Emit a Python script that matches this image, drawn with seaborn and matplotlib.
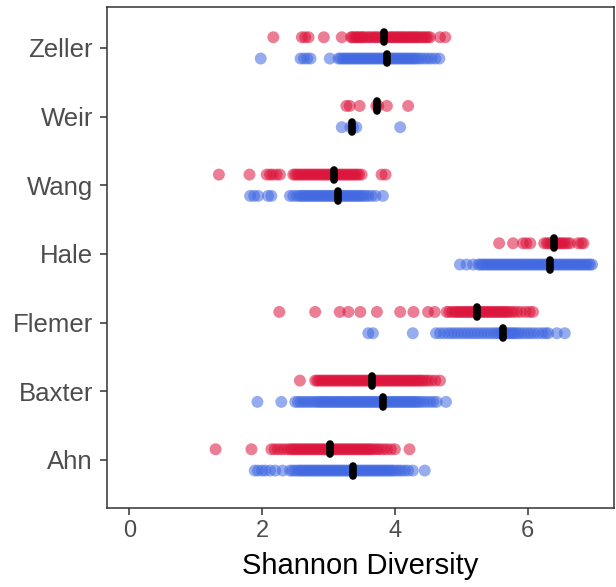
import numpy as np
import pandas as pd
import matplotlib
matplotlib.use("Agg")
import matplotlib.pyplot as plt
import seaborn as sns

# -------- data --------
studies = ["Zeller", "Weir", "Wang", "Hale", "Flemer", "Baxter", "Ahn"]
groups = ["CRC", "Control"]
palette = {"CRC": "#DC143C", "Control": "#4169E1"}

zeller_crc = [2.17, 2.60, 2.65, 2.70, 2.93, 3.20, 3.34, 3.36, 3.39, 3.42, 3.44,
              3.47, 3.50, 3.52, 3.55, 3.59, 3.62, 3.66, 3.69, 3.72, 3.75, 3.79,
              3.82, 3.85, 3.88, 3.92, 3.95, 3.97, 4.00, 4.03, 4.05, 4.08, 4.11,
              4.13, 4.16, 4.19, 4.22, 4.24, 4.27, 4.30, 4.32, 4.35, 4.38, 4.41,
              4.44, 4.47, 4.50, 4.53, 4.68, 4.76]
zeller_ctrl = [1.98, 2.58, 2.63, 2.68, 2.73, 3.02, 3.15, 3.18, 3.21, 3.24, 3.27,
               3.30, 3.33, 3.36, 3.39, 3.42, 3.45, 3.48, 3.51, 3.54, 3.57, 3.60,
               3.63, 3.66, 3.69, 3.72, 3.75, 3.78, 3.81, 3.84, 3.87, 3.90, 3.93,
               3.96, 3.99, 4.02, 4.05, 4.08, 4.11, 4.14, 4.17, 4.20, 4.23, 4.26,
               4.29, 4.32, 4.36, 4.40, 4.45, 4.50, 4.55, 4.61, 4.67]
weir_crc = [3.27, 3.32, 3.47, 3.72, 3.75, 3.88, 4.20]
weir_ctrl = [3.20, 3.33, 3.37, 3.42, 4.08]
wang_crc = [1.35, 1.81, 2.07, 2.12, 2.16, 2.22, 2.27, 2.47, 2.50, 2.53, 2.56,
            2.59, 2.62, 2.65, 2.68, 2.71, 2.74, 2.77, 2.80, 2.83, 2.86, 2.89,
            2.92, 2.95, 2.98, 3.01, 3.04, 3.07, 3.10, 3.13, 3.16, 3.19, 3.22,
            3.25, 3.28, 3.31, 3.34, 3.37, 3.40, 3.43, 3.46, 3.50, 3.80, 3.86]
wang_ctrl = [1.82, 1.88, 1.94, 2.09, 2.14, 2.42, 2.47, 2.52, 2.56, 2.59, 2.62,
             2.65, 2.68, 2.71, 2.74, 2.77, 2.80, 2.83, 2.86, 2.89, 2.92, 2.95,
             2.98, 3.01, 3.04, 3.07, 3.10, 3.13, 3.16, 3.19, 3.22, 3.25, 3.28,
             3.31, 3.34, 3.37, 3.40, 3.43, 3.46, 3.49, 3.52, 3.56, 3.60, 3.65,
             3.71, 3.82]
hale_crc = [5.57, 5.78, 5.93, 5.98, 6.04, 6.25, 6.29, 6.32, 6.35, 6.38, 6.41,
            6.44, 6.47, 6.50, 6.53, 6.56, 6.60, 6.64, 6.76, 6.81, 6.84]
hale_ctrl = [4.98, 5.08, 5.18, 5.26, 5.29, 5.32, 5.35, 5.38, 5.41, 5.44, 5.47,
             5.50, 5.53, 5.56, 5.59, 5.62, 5.65, 5.68, 5.71, 5.74, 5.77, 5.80,
             5.83, 5.86, 5.89, 5.92, 5.95, 5.98, 6.01, 6.04, 6.07, 6.10, 6.13,
             6.16, 6.19, 6.22, 6.25, 6.28, 6.31, 6.34, 6.37, 6.40, 6.43, 6.46,
             6.49, 6.52, 6.55, 6.58, 6.61, 6.64, 6.67, 6.70, 6.73, 6.76, 6.79,
             6.82, 6.85, 6.88, 6.91, 6.94, 6.97]
flemer_crc = [2.26, 2.80, 3.17, 3.30, 3.48, 3.73, 4.08, 4.28, 4.50, 4.60, 4.78,
              4.82, 4.86, 4.90, 4.93, 4.96, 4.99, 5.02, 5.05, 5.08, 5.11, 5.14,
              5.17, 5.20, 5.23, 5.26, 5.29, 5.32, 5.35, 5.38, 5.41, 5.44, 5.47,
              5.50, 5.53, 5.56, 5.59, 5.62, 5.65, 5.68, 5.71, 5.75, 5.79, 5.84,
              5.90, 5.97, 6.03, 6.08]
flemer_ctrl = [3.60, 3.67, 4.27, 4.62, 4.68, 4.74, 4.80, 4.85, 4.90, 4.95, 5.00,
               5.05, 5.10, 5.15, 5.20, 5.25, 5.30, 5.35, 5.40, 5.45, 5.50, 5.54,
               5.58, 5.61, 5.64, 5.67, 5.70, 5.73, 5.76, 5.79, 5.82, 5.86, 5.90,
               5.95, 6.00, 6.05, 6.10, 6.16, 6.22, 6.27, 6.31, 6.44, 6.56]
baxter_crc = [2.57, 2.80, 2.83, 2.86, 2.89, 2.92, 2.95, 2.98, 3.01, 3.04, 3.07,
              3.10, 3.13, 3.16, 3.19, 3.22, 3.25, 3.28, 3.31, 3.34, 3.37, 3.40,
              3.43, 3.46, 3.49, 3.52, 3.55, 3.58, 3.61, 3.64, 3.67, 3.70, 3.73,
              3.76, 3.79, 3.82, 3.85, 3.88, 3.91, 3.94, 3.97, 4.00, 4.03, 4.06,
              4.09, 4.12, 4.15, 4.18, 4.21, 4.24, 4.27, 4.30, 4.33, 4.36, 4.39,
              4.42, 4.46, 4.50, 4.55, 4.61, 4.68]
baxter_ctrl = [1.93, 2.29, 2.50, 2.54, 2.58, 2.62, 2.66, 2.70, 2.74, 2.78, 2.82,
               2.85, 2.88, 2.91, 2.94, 2.97, 3.00, 3.03, 3.06, 3.09, 3.12, 3.15,
               3.18, 3.21, 3.24, 3.27, 3.30, 3.33, 3.36, 3.39, 3.42, 3.45, 3.48,
               3.51, 3.54, 3.57, 3.60, 3.63, 3.66, 3.69, 3.72, 3.75, 3.78, 3.81,
               3.84, 3.87, 3.90, 3.93, 3.96, 3.99, 4.02, 4.05, 4.08, 4.11, 4.14,
               4.17, 4.20, 4.23, 4.26, 4.29, 4.32, 4.35, 4.39, 4.43, 4.48, 4.53,
               4.58, 4.63, 4.77]
ahn_crc = [1.30, 1.84, 2.14, 2.19, 2.24, 2.29, 2.34, 2.39, 2.43, 2.46, 2.49,
           2.52, 2.55, 2.58, 2.61, 2.64, 2.67, 2.70, 2.73, 2.76, 2.79, 2.82,
           2.85, 2.88, 2.91, 2.94, 2.97, 3.00, 3.03, 3.06, 3.09, 3.12, 3.15,
           3.18, 3.21, 3.24, 3.27, 3.30, 3.33, 3.36, 3.39, 3.42, 3.45, 3.48,
           3.51, 3.54, 3.57, 3.60, 3.63, 3.66, 3.70, 3.74, 3.78, 3.83, 3.88,
           3.94, 4.00, 4.22]
ahn_ctrl = [1.89, 1.94, 2.00, 2.05, 2.12, 2.20, 2.31, 2.42, 2.46, 2.50, 2.54,
            2.57, 2.60, 2.63, 2.66, 2.69, 2.72, 2.75, 2.78, 2.81, 2.84, 2.87,
            2.90, 2.93, 2.96, 2.99, 3.02, 3.05, 3.08, 3.11, 3.14, 3.17, 3.20,
            3.23, 3.26, 3.29, 3.32, 3.35, 3.38, 3.41, 3.44, 3.47, 3.50, 3.53,
            3.56, 3.59, 3.62, 3.65, 3.68, 3.71, 3.74, 3.77, 3.80, 3.83, 3.86,
            3.89, 3.92, 3.95, 3.98, 4.02, 4.06, 4.10, 4.15, 4.20, 4.27, 4.45]

# per-group medians (black bars)
med_crc = [3.83, 3.73, 3.09, 6.39, 5.24, 3.65, 3.03]
med_ctrl = [3.88, 3.36, 3.15, 6.33, 5.63, 3.82, 3.37]

samples = {
    ("Zeller", "CRC"): zeller_crc, ("Zeller", "Control"): zeller_ctrl,
    ("Weir", "CRC"): weir_crc, ("Weir", "Control"): weir_ctrl,
    ("Wang", "CRC"): wang_crc, ("Wang", "Control"): wang_ctrl,
    ("Hale", "CRC"): hale_crc, ("Hale", "Control"): hale_ctrl,
    ("Flemer", "CRC"): flemer_crc, ("Flemer", "Control"): flemer_ctrl,
    ("Baxter", "CRC"): baxter_crc, ("Baxter", "Control"): baxter_ctrl,
    ("Ahn", "CRC"): ahn_crc, ("Ahn", "Control"): ahn_ctrl,
}
rows = [(s, g, v) for (s, g), vals in samples.items() for v in vals]
df = pd.DataFrame(rows, columns=["study", "group", "shannon"])
med = pd.DataFrame({
    "study": studies * 2,
    "group": ["CRC"] * len(studies) + ["Control"] * len(studies),
    "shannon": med_crc + med_ctrl,
})

# -------- plot --------
sns.set_theme(style="white")
plt.rcParams["font.family"] = ["Liberation Sans", "DejaVu Sans"]

fig = plt.figure(figsize=(6.16, 5.87), dpi=100)
ax = fig.add_axes([0.1732, 0.1346, 0.8235, 0.854])

sns.stripplot(data=df, x="shannon", y="study", hue="group", order=studies,
              hue_order=groups, palette=palette, dodge=True, jitter=False,
              size=8.6, alpha=0.55, linewidth=0, legend=False, ax=ax)

# groups sit a bit closer to the category line than seaborn's default dodge
for coll in ax.collections:
    off = coll.get_offsets()
    if len(off):
        base = np.round(off[:, 1])
        off[:, 1] = base + (off[:, 1] - base) * 0.775
        coll.set_offsets(off)

n_lines = len(ax.lines)
n_cont = len(ax.containers)
sns.boxplot(data=med, x="shannon", y="study", hue="group", order=studies,
            hue_order=groups, dodge=True, width=0.62, gap=0.535,
            showbox=False, showcaps=False, showfliers=False, whis=0,
            linecolor="black", legend=False, ax=ax)

# keep only the median bars: thick, black, rounded ends
for ln in ax.lines[n_lines:]:
    ln.set_visible(False)
for box in ax.containers[n_cont:]:
    for ln in box.medians:
        ln.set_visible(True)
        ln.set_color("black")
        ln.set_linewidth(5.5)
        ln.set_solid_capstyle("round")
        ln.set_zorder(3)

ax.set_xlim(-0.34, 7.30)
ax.set_ylim(6.7, -0.6)
ax.set_xticks([0, 2, 4, 6])
ax.set_xlabel("Shannon Diversity", fontsize=21, color="black", labelpad=7)
ax.set_ylabel("")
ax.tick_params(axis="both", labelcolor="#4D4D4D", color="#333333",
               length=5, width=1.1, left=True, bottom=True)
ax.tick_params(axis="x", labelsize=17, pad=3.5)
ax.tick_params(axis="y", labelsize=18.5, pad=5)
for sp in ax.spines.values():
    sp.set_visible(True)
    sp.set_color("#333333")
    sp.set_linewidth(1.1)

fig.savefig("out.png", dpi=100)
